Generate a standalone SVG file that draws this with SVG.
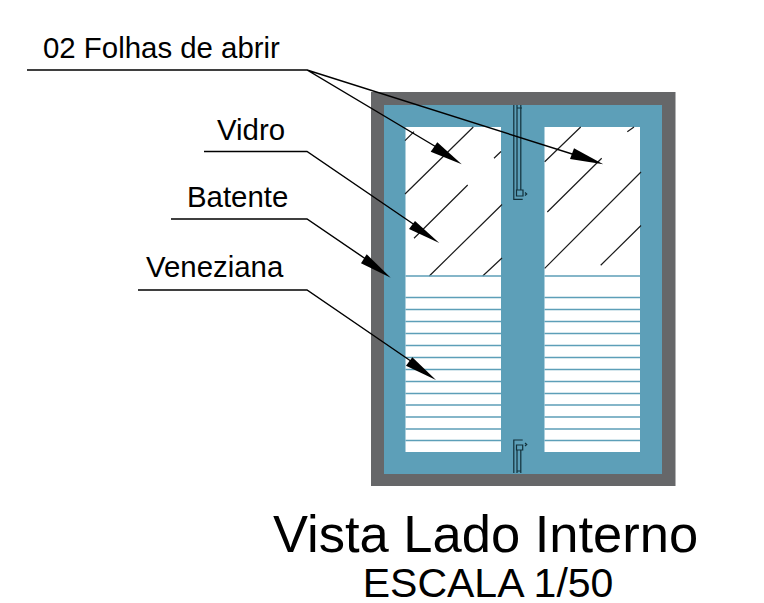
<svg xmlns="http://www.w3.org/2000/svg" width="764" height="603" viewBox="0 0 764 603">
<style>
text{font-family:"Liberation Sans",Arial,sans-serif;fill:#000}
.hatch{stroke:#1c1c1c;stroke-width:1.2;fill:none}
.slat{stroke:#5d9fb8;stroke-width:1.4;fill:none}
.leader{stroke:#000;stroke-width:1.4;fill:none}
.head{fill:#000;stroke:none}
.hw{stroke:#12303a;stroke-width:1.2;fill:none}
</style>
<rect width="764" height="603" fill="#fff"/>
<g id="window">
<rect x="371" y="92" width="304.500" height="394" fill="#666769"/>
<rect x="384" y="105" width="278" height="369" fill="#5d9fb8"/>
<rect x="405.500" y="127" width="95.500" height="325" fill="#fff"/>
<rect x="544.500" y="127" width="95.500" height="325" fill="#fff"/>
</g>
<g id="glass-hatch">
<path class="hatch" d="M405 140.700L414 131.700M405 194L473.300 127M494 158.300L501 151.500M414 238.300L467.700 185M429.300 276L502 204.500M482.700 276L502 258"/>
<path class="hatch" d="M544.700 161.700L580.700 127M627.300 131.700L634 127M547.300 212L601.700 158.300M544.700 268.300L641 172M600.700 265.300L641 225.500"/>
</g>
<g id="louvers">
<path class="slat" d="M405.500 276H501M405.500 297.500H501M405.500 309.500H501M405.500 321.500H501M405.500 333.500H501M405.500 345.500H501M405.500 357.500H501M405.500 369.500H501M405.500 381.500H501M405.500 393.500H501M405.500 405H501M405.500 417H501M405.500 429H501M405.500 440.500H501"/>
<path class="slat" d="M544.500 276H640M544.500 297.500H640M544.500 309.500H640M544.500 321.500H640M544.500 333.500H640M544.500 345.500H640M544.500 357.500H640M544.500 369.500H640M544.500 381.500H640M544.500 393.500H640M544.500 405H640M544.500 417H640M544.500 429H640M544.500 440.500H640"/>
</g>
<g id="hardware-top">
<path class="hw" d="M513.800 105V199.300H522.700M517 105V190M520.800 105V190M517 108H522M516.500 190H523V196H516.500ZM525 192.500L526.700 194L525 195.500"/>
</g>
<g id="hardware-bottom">
<path class="hw" d="M513.800 473V440H522.700M517 473V450M520.800 473V450M516.500 445H522.700V450H516.500ZM517 471H521M525 443L526.700 444.500L525 446"/>
</g>
<g id="connectors">
<path class="leader" d="M27 70H307L448 154M307 70L588 159M204 151.500H307L425 232M171 219H307L376 266M138 290H307L421 368"/>
<polygon class="head" points="461.700,164.300 437.300,142.300 430.700,151.700"/>
<polygon class="head" points="603.300,164.300 574,148.300 570,159"/>
<polygon class="head" points="439.300,243 415,221 409,229"/>
<polygon class="head" points="390.700,277.700 366.700,254.300 361,263.300"/>
<polygon class="head" points="436,380 412.300,357.300 406,365.700"/>
</g>
<g id="labels">
<text x="43" y="57.700" font-size="29.400">02 Folhas de abrir</text>
<text x="217" y="140" font-size="29.400">Vidro</text>
<text x="187" y="206.700" font-size="29.400">Batente</text>
<text x="146" y="277.300" font-size="29.400">Veneziana</text>
<text x="273" y="551.700" font-size="52.500">Vista Lado Interno</text>
<text x="362.700" y="597.300" font-size="41">ESCALA 1/50</text>
</g>
</svg>
